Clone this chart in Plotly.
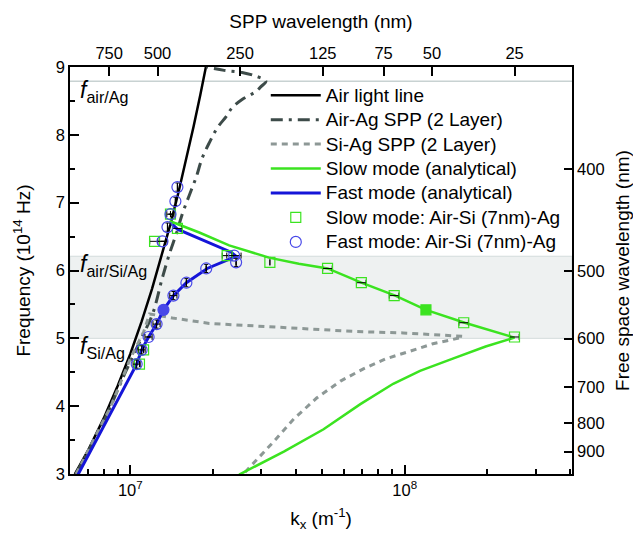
import math
import plotly.graph_objects as go

# ---------------- data ----------------
# Air light line
light_k = [6.28e6, 7.0e6, 8.0e6, 9.0e6, 1.0e7, 1.1e7, 1.2e7, 1.3e7, 1.4e7, 1.5e7, 1.6e7, 1.7e7, 1.8e7, 1.886e7]
light_f = [3.00, 3.34, 3.82, 4.30, 4.77, 5.25, 5.73, 6.21, 6.68, 7.16, 7.64, 8.12, 8.59, 9.00]

# Air-Ag SPP (2 layer)
airag_k = [6.33e6, 8.05e6, 9.6e6, 1.100e7, 1.206e7, 1.300e7, 1.332e7, 1.390e7, 1.473e7, 1.549e7,
           1.641e7, 1.740e7, 1.829e7, 1.95e7, 2.073e7, 2.235e7, 2.350e7, 2.555e7, 2.871e7, 2.993e7,
           3.120e7, 2.895e7, 2.555e7, 2.198e7, 1.891e7]
airag_f = [3.00, 3.80, 4.50, 5.01, 5.36, 5.85, 6.00, 6.25, 6.55, 6.84,
           7.11, 7.38, 7.66, 7.90, 8.10, 8.27, 8.40, 8.52, 8.64, 8.71,
           8.79, 8.86, 8.92, 8.95, 9.00]

# Si-Ag SPP (2 layer)
siag_k = [6.35e6, 8.5e6, 1.0e7, 1.12e7, 1.176e7, 1.424e7, 1.940e7, 2.663e7, 4.178e7, 6.668e7,
          9.867e7, 1.377e8, 1.628e8, 1.601e8, 1.267e8, 1.046e8, 8.564e7, 7.069e7, 5.834e7, 4.775e7,
          3.941e7, 3.336e7, 2.822e7, 2.597e7]
siag_f = [3.00, 4.00, 4.70, 5.10, 5.36, 5.30, 5.22, 5.19, 5.14, 5.10,
          5.08, 5.04, 5.03, 5.01, 4.92, 4.81, 4.70, 4.55, 4.37, 4.12,
          3.81, 3.48, 3.16, 3.01]

# Slow mode (analytical)
slow_k = [1.390e7, 1.784e7, 2.292e7, 3.200e7, 4.111e7, 5.234e7, 6.950e7, 9.231e7, 1.195e8, 1.655e8,
          2.512e8, 1.972e8, 1.497e8, 1.137e8, 9.080e7, 6.893e7, 5.062e7, 3.626e7, 2.492e7]
slow_f = [6.73, 6.56, 6.37, 6.19, 6.10, 6.03, 5.82, 5.63, 5.42, 5.23,
          5.01, 4.88, 4.70, 4.52, 4.33, 4.03, 3.66, 3.33, 2.99]

# Fast mode (analytical)
fast_k = [6.447e6, 8.146e6, 1.029e7, 1.055e7, 1.100e7, 1.166e7, 1.247e7, 1.321e7, 1.436e7, 1.601e7,
          1.907e7, 2.198e7, 2.430e7, 2.331e7, 1.860e7, 1.485e7, 1.413e7]
fast_f = [2.99, 3.76, 4.52, 4.62, 4.83, 5.02, 5.21, 5.42, 5.63, 5.82,
          6.03, 6.13, 6.21, 6.27, 6.44, 6.61, 6.69]

# Slow mode simulation: Air-Si (7nm)-Ag
slowpts_k = [1.08e7, 1.118e7, 1.226e7, 1.401e7, 1.485e7, 2.254e7, 3.226e7, 5.234e7, 6.950e7, 9.154e7,
             1.195e8, 1.641e8, 2.512e8]
slowpts_f = [4.62, 4.83, 6.43, 6.83, 6.62, 6.22, 6.12, 6.03, 5.82, 5.63, 5.42, 5.23, 5.02]
slowpts_filled = [0, 0, 0, 0, 0, 0, 0, 0, 0, 0, 1, 0, 0]
slowpts_errx_pct = [0, 0, 4, 0, 4, 4, 0, 4, 4, 4, 0, 4, 4]

# Fast mode simulation: Air-Si (7nm)-Ag
fastpts_k = [1.055e7, 1.100e7, 1.166e7, 1.247e7, 1.321e7, 1.436e7, 1.601e7, 1.891e7, 2.430e7, 2.390e7,
             1.310e7, 1.366e7, 1.401e7, 1.460e7, 1.485e7]
fastpts_f = [4.62, 4.83, 5.02, 5.21, 5.42, 5.63, 5.82, 6.03, 6.12, 6.22, 6.43, 6.64, 6.83, 7.02, 7.23]
fastpts_filled = [0, 0, 0, 0, 1, 0, 0, 0, 0, 0, 0, 0, 0, 0, 0]
fastpts_errx_pct = [3, 3, 3, 3, 0, 3, 0, 0, 0, 6, 4, 0, 3, 0, 0]
fastpts_erry = [0.06, 0.06, 0.0, 0.06, 0.0, 0.06, 0.06, 0.06, 0.06, 0.0, 0.0, 0.06, 0.0, 0.06, 0.06]

# Reference frequencies
f_air_ag = 8.79
f_air_si_ag = 6.21
f_si_ag = 5.00

# Axis tick labels
x_tick_vals = [1e7, 1e8]
x_tick_text = ['10<sup>7</sup>', '10<sup>8</sup>']
x_minor_vals = [7e6, 8e6, 9e6, 2e7, 3e7, 4e7, 5e7, 6e7, 7e7, 8e7, 9e7, 2e8, 3e8, 4e8]
spp_nm = [750, 500, 250, 125, 75, 50, 25]
free_nm = [400, 500, 600, 700, 800, 900]

# ---------------- figure ----------------
FONT = "Liberation Sans, Arial, sans-serif"
GREEN = '#3be320'
BLUE = '#1515d8'
DKGRAY = '#3d4b49'
LTGRAY = '#8d9896'


def lg(s):
    return '<span style="font-size:19px">' + s + '</span>'


fig = go.Figure()

fig.add_trace(go.Scatter(x=light_k, y=light_f, mode='lines', name=lg('Air light line'),
                         line=dict(color='black', width=2.5)))
fig.add_trace(go.Scatter(x=airag_k, y=airag_f, mode='lines', name=lg('Air-Ag SPP (2 Layer)'),
                         line=dict(color=DKGRAY, width=3, dash='12px,6px,3px,6px'),
                         line_shape='spline'))
fig.add_trace(go.Scatter(x=siag_k, y=siag_f, mode='lines', name=lg('Si-Ag SPP (2 Layer)'),
                         line=dict(color=LTGRAY, width=3, dash='6px,5px')))
fig.add_trace(go.Scatter(x=slow_k, y=slow_f, mode='lines', name=lg('Slow mode (analytical)'),
                         line=dict(color=GREEN, width=2.5)))
fig.add_trace(go.Scatter(x=fast_k, y=fast_f, mode='lines', name=lg('Fast mode (analytical)'),
                         line=dict(color=BLUE, width=3)))

fig.add_trace(go.Scatter(
    x=slowpts_k, y=slowpts_f, mode='markers', name=lg('Slow mode: Air-Si (7nm)-Ag'),
    marker=dict(symbol=['square' if s else 'square-open' for s in slowpts_filled],
                size=10, color=GREEN, line=dict(color=GREEN, width=1.2)),
    error_x=dict(type='data', array=[k * p / 100 for k, p in zip(slowpts_k, slowpts_errx_pct)],
                 color='black', thickness=1, width=3),
))
fig.add_trace(go.Scatter(
    x=fastpts_k, y=fastpts_f, mode='markers', name=lg('Fast mode: Air-Si (7nm)-Ag'),
    marker=dict(symbol=['circle' if s else 'circle-open' for s in fastpts_filled],
                size=11, color='#4848e8', line=dict(color='#4848e8', width=1.2)),
    error_x=dict(type='data', array=[k * p / 100 for k, p in zip(fastpts_k, fastpts_errx_pct)],
                 color='black', thickness=1, width=3),
    error_y=dict(type='data', array=fastpts_erry, color='black', thickness=1, width=2),
))

# invisible trace to activate top/right axes
fig.add_trace(go.Scatter(x=[1e7], y=[5], xaxis='x2', yaxis='y2', mode='markers',
                         marker=dict(opacity=0), showlegend=False, hoverinfo='skip'))

xr = [math.log10(6.03e6), math.log10(4.07e8)]

axis_common = dict(showline=True, linecolor='black', linewidth=1.5, showgrid=False, zeroline=False,
                   ticks='inside', tickcolor='black', tickwidth=1.5, automargin=False,
                   tickfont=dict(family=FONT, size=16.5, color='black'))

# the page body adds an 8px offset, so the figure is 8px smaller and margins shifted
fig.update_layout(
    width=633, height=529,
    margin=dict(l=62, r=69, t=59, b=63),
    paper_bgcolor='white', plot_bgcolor='white',
    font=dict(family=FONT, color='black'),
    xaxis=dict(type='log', range=xr, tickvals=x_tick_vals, ticktext=x_tick_text, ticklen=9,
               minor=dict(tickvals=x_minor_vals, ticks='inside', ticklen=5, tickcolor='black', tickwidth=1.5),
               title=dict(text='k<sub>x</sub> (m<sup>-1</sup>)', font=dict(family=FONT, size=19), standoff=14),
               **axis_common),
    yaxis=dict(range=[3, 9], tickvals=[3, 4, 5, 6, 7, 8, 9], ticklen=9,
               minor=dict(dtick=0.5, ticks='inside', ticklen=5, tickcolor='black', tickwidth=1.5),
               title=dict(text='Frequency (10<sup>14</sup> Hz)', font=dict(family=FONT, size=19), standoff=20),
               **axis_common),
    xaxis2=dict(type='log', range=xr, overlaying='x', side='top', anchor='y',
                tickvals=[2 * math.pi / (n * 1e-9) for n in spp_nm], ticktext=[str(n) for n in spp_nm],
                ticklen=9,
                title=dict(text='SPP wavelength (nm)', font=dict(family=FONT, size=19), standoff=10),
                **axis_common),
    yaxis2=dict(range=[3, 9], overlaying='y', side='right', anchor='x',
                tickvals=[2997.92458 / n for n in free_nm], ticktext=[str(n) for n in free_nm],
                ticklen=8,
                title=dict(text='Free space wavelength (nm)', font=dict(family=FONT, size=19), standoff=12),
                **axis_common),
    legend=dict(x=0.39, y=0.973, xanchor='left', yanchor='top', bgcolor='rgba(0,0,0,0)',
                font=dict(family=FONT, size=16.5, color='black'), itemwidth=50, tracegroupgap=0),
    showlegend=True,
)

fig.add_shape(type='rect', xref='x domain', yref='y', x0=0, x1=1, y0=f_si_ag, y1=f_air_si_ag,
              fillcolor='#eef1f1', line=dict(color='#d3dbdb', width=1), layer='below')
fig.add_shape(type='line', xref='x domain', yref='y', x0=0, x1=1, y0=f_air_ag, y1=f_air_ag,
              line=dict(color='#c8d2d2', width=1.5), layer='below')

labels = [('air/Ag', 8.64), ('air/Si/Ag', 6.08), ('Si/Ag', 4.87)]
for sub, yv in labels:
    fig.add_annotation(xref='x domain', yref='y', x=0.015, y=yv, xanchor='left', yanchor='middle',
                       text='<i>f</i><sub>' + sub + '</sub>', showarrow=False,
                       font=dict(family=FONT, size=23, color='black'))

fig.write_html('out.html')
